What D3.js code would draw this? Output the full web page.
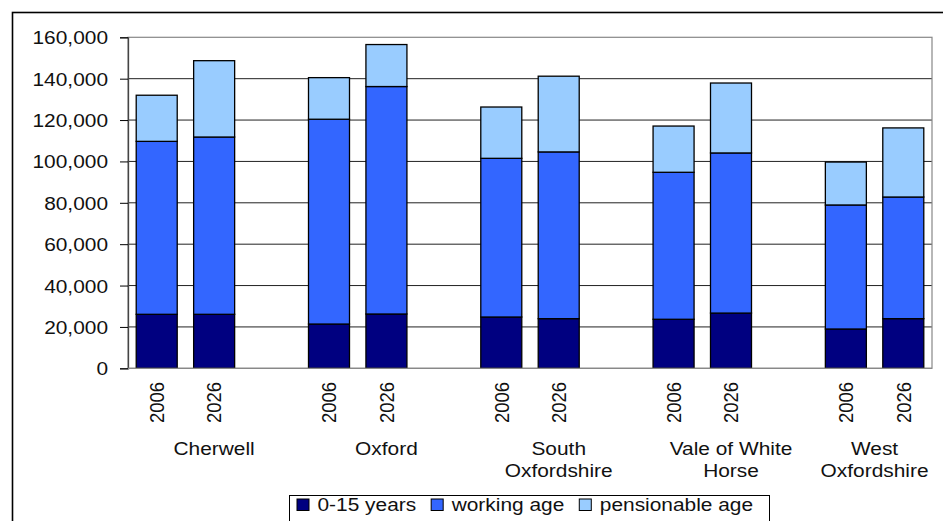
<!DOCTYPE html>
<html>
<head>
<meta charset="utf-8">
<script src="https://cdn.jsdelivr.net/npm/d3@7"></script>
<style>
  html, body { margin: 0; padding: 0; background: #fff; }
  svg { display: block; }
  text { font-family: "Liberation Sans", Arial, sans-serif; fill: #111; }
</style>
</head>
<body>
<svg id="chart" width="943" height="521"></svg>
<script>
// Population by age band, Oxfordshire districts, 2006 and projected 2026
const districts = ["Cherwell", "Oxford", "South Oxfordshire", "Vale of White Horse", "West Oxfordshire"];
const districtLabelLines = [["Cherwell"], ["Oxford"], ["South", "Oxfordshire"], ["Vale of White", "Horse"], ["West", "Oxfordshire"]];
const years = ["2006", "2026"];
const ageGroups = ["0-15 years", "working age", "pensionable age"];
const ageColors = ["#000080", "#3366FF", "#99CCFF"];

// values ordered district by district: 2006 then 2026
const children    = [26100, 26100, 21400, 26250, 24800, 24000, 23700, 26700, 19000, 24000];
const workingAge  = [83600, 85700, 99000, 109950, 76700, 80600, 71050, 77400, 59950, 58800];
const pensionAge  = [22300, 36900, 20100, 20300, 24800, 36600, 22350, 33800, 20750, 33400];

const yTicks = [0, 20000, 40000, 60000, 80000, 100000, 120000, 140000, 160000];

const svg = d3.select("#chart");
const W = 943, H = 521;
const plot = { left: 128, right: 932, top: 37.3, bottom: 368.3 };
const fontSize = 18.5;
const sx = 1.13; // horizontal text stretch

// one slot per bar plus a spacer slot between districts
const slots = [];
const groupSlots = [];
districts.forEach((d, i) => {
  const g = [];
  years.forEach(y => { slots.push(i + "|" + y); g.push(i + "|" + y); });
  if (i < districts.length - 1) { slots.push(i + "|gap"); g.push(i + "|gap"); }
  groupSlots.push(g);
});

const x = d3.scaleBand().domain(slots)
  .range([plot.left, plot.right])
  .paddingInner(0.286).paddingOuter(0.143);
const y = d3.scaleLinear().domain([0, 160000]).range([plot.bottom, plot.top]);
const half = x.bandwidth() / 2;

// outer chart frame
svg.append("rect").attr("x", 12.5).attr("y", 12.5).attr("width", W).attr("height", H)
  .attr("fill", "none").attr("stroke", "#000").attr("stroke-width", 1.6);

// gridlines
const gridVals = yTicks.filter(v => v > 0 && v < 160000);
svg.append("g").selectAll("line").data(gridVals).join("line")
  .attr("x1", plot.left).attr("x2", plot.right)
  .attr("y1", d => y(d)).attr("y2", d => y(d))
  .attr("stroke", "#222").attr("stroke-width", 1);

// plot area border
svg.append("rect").attr("x", plot.left).attr("y", plot.top)
  .attr("width", plot.right - plot.left).attr("height", plot.bottom - plot.top)
  .attr("fill", "none").attr("stroke", "#888").attr("stroke-width", 1.2);

// stacked rows
const rows = [];
districts.forEach((d, i) => {
  years.forEach((yr, j) => {
    const k = i * 2 + j;
    rows.push({ slot: i + "|" + yr, year: yr, vals: [children[k], workingAge[k], pensionAge[k]] });
  });
});
const stackData = rows.map(r => ({ slot: r.slot, a0: r.vals[0], a1: r.vals[1], a2: r.vals[2] }));
const series = d3.stack().keys(["a0", "a1", "a2"])(stackData);

svg.append("g").selectAll("g").data(series).join("g")
  .attr("fill", (d, i) => ageColors[i])
  .selectAll("rect").data(d => d).join("rect")
  .attr("x", d => x(d.data.slot))
  .attr("width", x.bandwidth())
  .attr("y", d => y(d[1]))
  .attr("height", d => y(d[0]) - y(d[1]))
  .attr("stroke", "#000").attr("stroke-width", 1.3);

// y axis
const yAxis = d3.axisLeft(y).tickValues(yTicks).tickSize(8).tickFormat(d3.format(","));
const gy = svg.append("g").attr("transform", `translate(${plot.left},0)`).call(yAxis);
gy.select(".domain").attr("stroke", "#444").attr("stroke-width", 1.3);
gy.selectAll(".tick line").attr("stroke", "#000").attr("stroke-width", 1);
gy.selectAll(".tick text").remove();
gy.selectAll(".tick").append("text")
  .attr("transform", `translate(-20,0) scale(${sx},1)`)
  .attr("text-anchor", "end").attr("dy", "0.35em")
  .style("font-size", fontSize + "px").style("fill", "#111")
  .text(d => d3.format(",")(d));

// x axis base line
svg.append("line").attr("x1", plot.left).attr("x2", plot.right)
  .attr("y1", plot.bottom).attr("y2", plot.bottom)
  .attr("stroke", "#888").attr("stroke-width", 1.3);

// year labels, rotated
svg.append("g").selectAll("text").data(rows).join("text")
  .attr("transform", d => `translate(${x(d.slot) + half},382) scale(${sx},1) rotate(-90)`)
  .attr("text-anchor", "end").attr("dy", "0.35em")
  .style("font-size", fontSize + "px")
  .text(d => d.year);

// district labels, centred on each district's span of slots
const groupCenter = i => {
  const g = groupSlots[i];
  return (x(g[0]) + half + x(g[g.length - 1]) + half) / 2;
};
const dl = svg.append("g").selectAll("g").data(districtLabelLines).join("g")
  .attr("transform", (d, i) => `translate(${groupCenter(i)},455) scale(${sx},1)`);
dl.selectAll("text").data(d => d).join("text")
  .attr("y", (d, i) => i * 22)
  .attr("text-anchor", "middle")
  .style("font-size", fontSize + "px")
  .text(d => d);

// legend
const legend = svg.append("g");
legend.append("rect").attr("x", 289.5).attr("y", 495.5).attr("width", 480).attr("height", 40)
  .attr("fill", "#fff").attr("stroke", "#000").attr("stroke-width", 1);
let lx = 297;
ageGroups.forEach((name, i) => {
  legend.append("rect").attr("x", lx).attr("y", 499).attr("width", 12).attr("height", 11.5)
    .attr("fill", ageColors[i]).attr("stroke", "#000").attr("stroke-width", 1);
  const t = legend.append("text")
    .attr("transform", `translate(${lx + 20.5},510.7) scale(${sx},1)`)
    .style("font-size", fontSize + "px")
    .text(name);
  const w = t.node().getComputedTextLength() * sx;
  lx = lx + 20.5 + w + 15;
});
</script>
</body>
</html>
